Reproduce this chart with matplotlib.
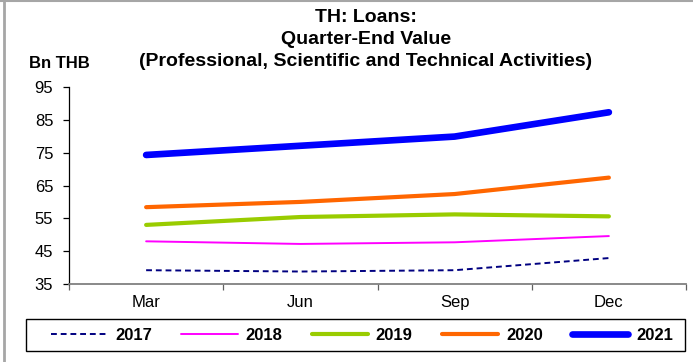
import matplotlib
matplotlib.use("Agg")
import matplotlib.pyplot as plt
from matplotlib.lines import Line2D
from matplotlib.patches import Rectangle

plt.rcParams['font.family'] = ['Liberation Sans', 'DejaVu Sans']

quarters = ["Mar", "Jun", "Sep", "Dec"]
y2017 = [39.2, 38.8, 39.2, 42.9]
y2018 = [48.0, 47.2, 47.7, 49.6]
y2019 = [53.0, 55.4, 56.2, 55.6]
y2020 = [58.4, 60.0, 62.4, 67.4]
y2021 = [74.3, 77.1, 79.9, 87.3]
yticks = [35, 45, 55, 65, 75, 85, 95]

series = [
    ("2017", y2017, "#000080", 1.4, (0, (3, 2))),
    ("2018", y2018, "#ff00ff", 1.4, "-"),
    ("2019", y2019, "#99cc00", 3.0, "-"),
    ("2020", y2020, "#ff6600", 3.0, "-"),
    ("2021", y2021, "#0000ff", 4.8, "-"),
]

W, H = 693, 362
fig = plt.figure(figsize=(W / 100, H / 100), dpi=100)
ax = fig.add_axes([69 / W, 1 - 284 / H, (686 - 69) / W, (284 - 87) / H])

x = list(range(len(quarters)))
handles = []
for name, vals, color, lw, ls in series:
    ax.plot(x, vals, color=color, lw=lw, ls=ls, solid_capstyle="round",
            dash_capstyle="butt", label=name)
    handles.append(Line2D([], [], color=color, lw=lw, ls=ls, solid_capstyle="round"))

ax.set_xlim(-0.5, 3.5)
ax.set_ylim(35, 95)
ax.set_yticks(yticks)
ax.set_yticklabels([str(v) for v in yticks], fontsize=12)
ax.set_xticks(x)
ax.set_xticklabels(quarters, fontsize=12)
ax.tick_params(axis="x", length=0, pad=8)
ax.set_xticks([-0.5, 0.5, 1.5, 2.5, 3.5], minor=True)
ax.tick_params(axis="x", which="minor", length=4, direction="out", width=0.9,
               color="#606060")
ax.tick_params(axis="y", length=4.3, direction="out", width=0.9, pad=7)
for s in ["top", "right"]:
    ax.spines[s].set_visible(False)
ax.spines["left"].set_linewidth(0.9)
ax.spines["bottom"].set_color("#808080")
ax.spines["bottom"].set_linewidth(1.3)

tx = 366 / W
fig.text(tx, 1 - 17 / H, "TH: Loans:", ha="center", va="center",
         fontsize=14, fontweight="bold")
fig.text(tx, 1 - 39 / H, "Quarter-End Value", ha="center", va="center",
         fontsize=14, fontweight="bold")
fig.text(tx, 1 - 61 / H, "(Professional, Scientific and Technical Activities)",
         ha="center", va="center", fontsize=14, fontweight="bold")
fig.text(59 / W, 1 - 64 / H, "Bn THB", ha="center", va="center",
         fontsize=12, fontweight="bold")

# legend entries, with a plain box drawn around the legend strip
fig.legend(handles, [s[0] for s in series], loc="center",
           bbox_to_anchor=(362 / W, 1 - 335 / H), ncol=5, frameon=False,
           handlelength=3.4, columnspacing=1.75, handletextpad=0.45,
           borderpad=0.0, prop={"weight": "bold", "size": 12})
fig.add_artist(Rectangle((26 / W, 1 - 351 / H), (685 - 26) / W, 32 / H,
                         transform=fig.transFigure, fill=False,
                         edgecolor="black", lw=1.0))

# thin gray frame along the top and left edges of the figure
fig.add_artist(Line2D([3.5 / W, 3.5 / W], [0, 1], transform=fig.transFigure,
                      color="#a6a6a6", lw=2.0))
fig.add_artist(Line2D([0, 1], [1 - 0.5 / H, 1 - 0.5 / H], transform=fig.transFigure,
                      color="#a6a6a6", lw=1.5))

fig.savefig("out.png", dpi=100)
